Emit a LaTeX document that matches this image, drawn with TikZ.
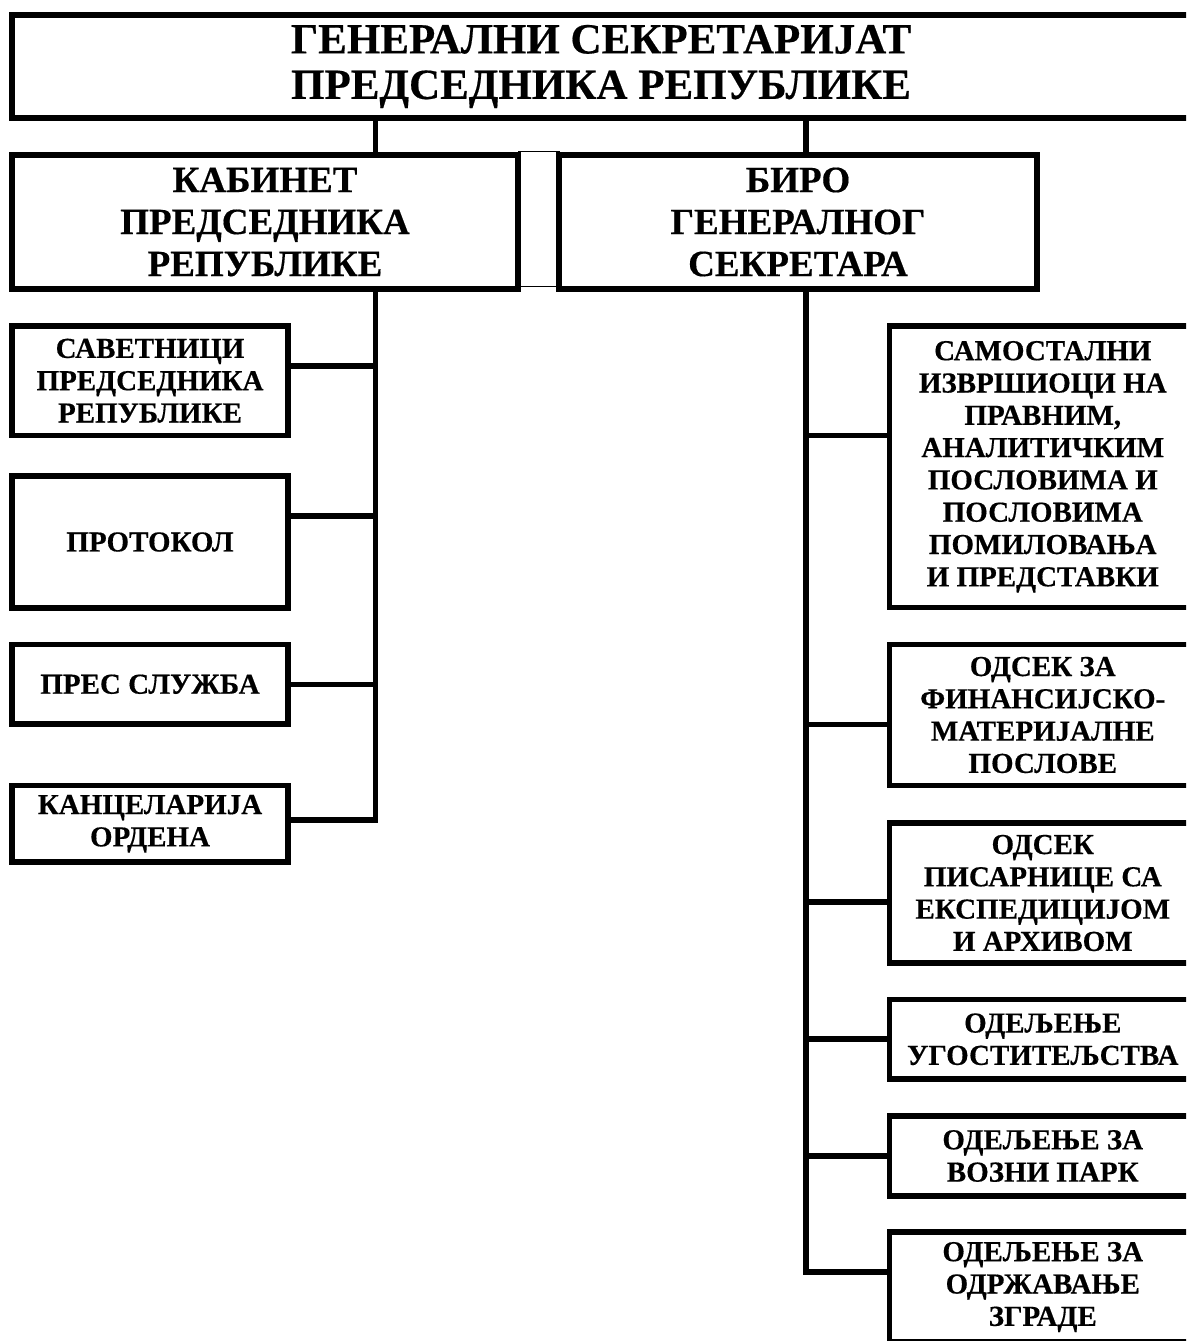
\documentclass[tikz,border=0pt]{standalone}
\usepackage{fontspec}
\setmainfont{Liberation Serif}[BoldFeatures={FakeBold=0.4}]
\begin{document}
\begin{tikzpicture}[x=1pt,y=-1pt,
  box/.style={draw=black, line width=5.7pt, fill=white, inner sep=0pt, outer sep=0pt, align=center, font=\bfseries},
  big/.style={font=\bfseries\fontsize{37}{42}\selectfont},
  small/.style={font=\bfseries\fontsize{29}{32.3}\selectfont},
  conn/.style={draw=black, line width=5.7pt}]
\useasboundingbox (0,0) rectangle (1186,1341);
\clip (0,0) rectangle (1186,1341);
\fill[white] (0,0) rectangle (1186,1341);
% top
\node[box, minimum width=1178pt, minimum height=103pt, font=\bfseries\fontsize{43}{45.5}\selectfont] (top) at (601,66.5) {ГЕНЕРАЛНИ СЕКРЕТАРИЈАТ\\ПРЕДСЕДНИКА РЕПУБЛИКЕ};
% second level
\node[draw=black, line width=1pt, inner sep=0pt, minimum width=41pt, minimum height=134.8pt] (gap) at (538.5,219.1) {};
\node[box, big, minimum width=506pt, minimum height=134pt] (cab) at (265,222) {КАБИНЕТ\\ПРЕДСЕДНИКА\\РЕПУБЛИКЕ};
\node[box, big, minimum width=478pt, minimum height=134pt] (biro) at (798,222) {БИРО\\ГЕНЕРАЛНОГ\\СЕКРЕТАРА};
% spines
\coordinate (ls) at (375.5,0);
\coordinate (rs) at (806,0);
\draw[conn] (top.south -| ls) -- (cab.north -| ls);
\draw[conn] (top.south -| rs) -- (biro.north -| rs);
% left boxes
\node[box, small, minimum width=276pt, minimum height=109.5pt] (sav) at (150,380.75) {САВЕТНИЦИ\\ПРЕДСЕДНИКА\\РЕПУБЛИКЕ};
\node[box, small, minimum width=276pt, minimum height=132pt] (prot) at (150,542) {ПРОТОКОЛ};
\node[box, small, minimum width=276pt, minimum height=79.5pt] (pres) at (150,684.25) {ПРЕС СЛУЖБА};
\node[box, small, minimum width=276pt, minimum height=76.5pt] (kanc) at (150,823.75) {КАНЦЕЛАРИЈА\\ОРДЕНА};
\coordinate (l1) at (375.5,366);
\coordinate (l2) at (375.5,516);
\coordinate (l3) at (375.5,684.5);
\coordinate (l4) at (375.5,820);
\draw[conn] (cab.south -| ls) -- (l4) -- (l4 -| kanc.east);
\draw[conn] (l1) -- (l1 -| sav.east);
\draw[conn] (l2) -- (l2 -| prot.east);
\draw[conn] (l3) -- (l3 -| pres.east);
% right boxes
\node[box, small, minimum width=306.5pt, minimum height=281.5pt] (sam) at (1042.75,466.75) {САМОСТАЛНИ\\ИЗВРШИОЦИ НА\\ПРАВНИМ,\\АНАЛИТИЧКИМ\\ПОСЛОВИМА И\\ПОСЛОВИМА\\ПОМИЛОВАЊА\\И ПРЕДСТАВКИ};
\node[box, small, minimum width=306.5pt, minimum height=141pt] (fin) at (1042.75,715) {ОДСЕК ЗА\\ФИНАНСИЈСКО-\\МАТЕРИЈАЛНЕ\\ПОСЛОВЕ};
\node[box, small, minimum width=306.5pt, minimum height=140pt] (pis) at (1042.75,893) {ОДСЕК\\ПИСАРНИЦЕ СА\\ЕКСПЕДИЦИЈОМ\\И АРХИВОМ};
\node[box, small, minimum width=306.5pt, minimum height=79.5pt] (ugo) at (1042.75,1039.25) {ОДЕЉЕЊЕ\\УГОСТИТЕЉСТВА};
\node[box, small, minimum width=306.5pt, minimum height=80pt] (voz) at (1042.75,1156) {ОДЕЉЕЊЕ ЗА\\ВОЗНИ ПАРК};
\node[box, small, minimum width=306.5pt, minimum height=110pt] (zgr) at (1042.75,1287) {ОДЕЉЕЊЕ ЗА\\ОДРЖАВАЊЕ\\ЗГРАДЕ};
\coordinate (r1) at (806,435.5);
\coordinate (r2) at (806,724.5);
\coordinate (r3) at (806,902);
\coordinate (r4) at (806,1039);
\coordinate (r5) at (806,1156);
\coordinate (r6) at (806,1272);
\draw[conn] (biro.south -| rs) -- (r6) -- (r6 -| zgr.west);
\draw[conn] (r1) -- (r1 -| sam.west);
\draw[conn] (r2) -- (r2 -| fin.west);
\draw[conn] (r3) -- (r3 -| pis.west);
\draw[conn] (r4) -- (r4 -| ugo.west);
\draw[conn] (r5) -- (r5 -| voz.west);
\end{tikzpicture}
\end{document}
